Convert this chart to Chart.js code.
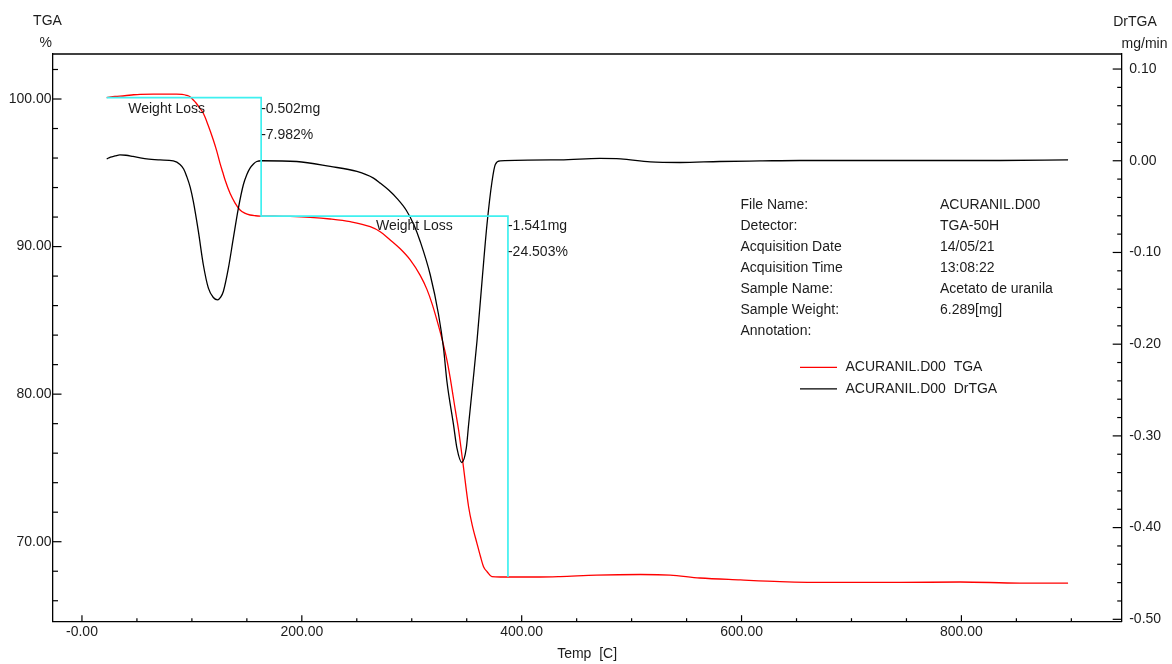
<!DOCTYPE html>
<html><head><meta charset="utf-8">
<script src="https://cdn.jsdelivr.net/npm/chart.js@4.4.1/dist/chart.umd.min.js"></script>
<style>html,body{margin:0;padding:0;background:#fff;}#wrap{width:1172px;height:664px;position:relative;}</style>
</head><body><div id="wrap"><canvas id="c" width="1172" height="664"></canvas></div>
<script>
// ---- data ----
const tgaTemp = [22.5,30,39,47,53,65,76,86,91,95,98.3,101,103.8,107,110.4,114.7,119.5,122.5,125.6,128,130.2,134.7,139.3,143.8,148,152.9,158,162,175,189.3,207.6,225.8,244,262.2,271.3,280.4,289.5,298.6,307.7,313.8,318.5,322.9,327.5,332,335,339.6,342.6,346.6,351.7,355,359.3,362.5,365.3,368.7,372.9,380.5,416.9,435,468,508,535,562,599,635,680,744,799,853,897];
const tgaPct = [100.10,100.17,100.22,100.29,100.32,100.33,100.33,100.33,100.31,100.25,100.15,99.95,99.73,99.40,99.03,98.24,97.22,96.50,95.64,95.05,94.51,93.61,92.95,92.48,92.27,92.14,92.09,92.07,92.06,92.04,91.98,91.87,91.69,91.35,91.01,90.45,89.85,89.10,88.05,87.10,86.12,85.02,83.75,82.31,81.09,78.93,77.57,75.31,72.37,71.13,69.89,69.00,68.31,67.95,67.63,67.61,67.61,67.64,67.74,67.78,67.74,67.54,67.41,67.30,67.24,67.24,67.27,67.20,67.20];
const drtgaTemp = [22.5,26,30,34.6,40,46.4,52,58.9,71,83.1,89.2,92.5,95.3,98.5,101.3,105.9,110.4,115,119.5,123.5,126,128.6,133.2,137.7,142.3,146.8,150,152.9,156,159,163.6,195.4,225.8,250.1,265.2,271.3,279,286.5,295,302,307.7,316.8,324.4,328.9,332,338,341.1,345.5,349.6,351.7,355.7,359.3,363.9,368.4,373,376,380.5,435,471,490,517,544,580,617,653,745,835,897];
const drtgaVal = [0.0020,0.0040,0.0052,0.0065,0.0060,0.0047,0.0035,0.0020,0.0009,-0.0002,-0.0040,-0.0090,-0.0171,-0.0290,-0.0444,-0.0771,-0.1134,-0.1389,-0.1491,-0.1516,-0.1490,-0.1425,-0.1171,-0.0844,-0.0517,-0.0262,-0.0150,-0.0081,-0.0035,-0.0008,0.0000,-0.0008,-0.0062,-0.0117,-0.0190,-0.0244,-0.0320,-0.0410,-0.0540,-0.0700,-0.0880,-0.1243,-0.1679,-0.2044,-0.2407,-0.2879,-0.3134,-0.3290,-0.3134,-0.2879,-0.2407,-0.1971,-0.1316,-0.0698,-0.0226,-0.0040,-0.0002,0.0009,0.0025,0.0020,-0.0013,-0.0019,-0.0008,-0.0002,0.0003,0.0003,0.0003,0.0009];
const weightLossTemp = [22.5,163.0,163.0,387.5,387.5];
const weightLossPct = [100.09,100.09,92.07,92.07,67.61];
const lossTextTemp = [42.1,163.0,163.0,267.4,387.5,387.5];
const lossTextPct = [99.32,99.32,97.58,91.39,91.39,89.60];
const lossTexts = ['Weight Loss','-0.502mg','-7.982%','Weight Loss','-1.541mg','-24.503%'];
const xMajorTicks = [0,200,400,600,800];
const xTickLabels = ['-0.00','200.00','400.00','600.00','800.00'];
const yLeftMajorTicks = [70,80,90,100];
const yLeftTickLabels = ['70.00','80.00','90.00','100.00'];
const yRightMajorTicks = [0.1,0,-0.1,-0.2,-0.3,-0.4,-0.5];
const yRightTickLabels = ['0.10','0.00','-0.10','-0.20','-0.30','-0.40','-0.50'];
const infoLabels = ['File Name:','Detector:','Acquisition Date','Acquisition Time','Sample Name:','Sample Weight:','Annotation:'];
const infoValues = ['ACURANIL.D00','TGA-50H','14/05/21','13:08:22','Acetato de uranila','6.289[mg]',''];
const seriesNames = ['ACURANIL.D00  TGA','ACURANIL.D00  DrTGA'];

// ---- chart ----
const FONT = "'Liberation Sans', Arial, Helvetica, sans-serif";
const TXT = '#1c1c1c';
Chart.defaults.font.family = FONT;
Chart.defaults.font.size = 14;
Chart.defaults.color = TXT;

const pts = (xs, ys) => xs.map((x,i)=>({x:x, y:ys[i]}));
const labelFor = (majors, labels) => v => {
  for (let i=0;i<majors.length;i++) if (Math.abs(v-majors[i])<1e-6) return labels[i];
  return '';
};

const decor = {
  id:'decor',
  beforeDraw(chart){
    const c=chart.ctx; c.save(); c.fillStyle='#fff'; c.fillRect(0,0,chart.width,chart.height); c.restore();
  },
  afterDraw(chart){
    const c=chart.ctx, a=chart.chartArea, sx=chart.scales.x, yl=chart.scales.yTGA, yr=chart.scales.yDr;
    c.save();
    c.strokeStyle='#000'; c.lineWidth=1.3;
    // top frame line
    c.beginPath(); c.moveTo(a.left,a.top); c.lineTo(a.right,a.top); c.stroke();
    // inward ticks
    c.lineWidth=1.2;
    sx.ticks.forEach(t=>{const p=sx.getPixelForValue(t.value); const L=t.label?6.5:3.5;
      c.beginPath(); c.moveTo(p,a.bottom); c.lineTo(p,a.bottom-L); c.stroke();});
    yl.ticks.forEach(t=>{const p=yl.getPixelForValue(t.value); const L=t.label?9:5.5;
      c.beginPath(); c.moveTo(a.left,p); c.lineTo(a.left+L,p); c.stroke();});
    yr.ticks.forEach(t=>{const p=yr.getPixelForValue(t.value); const L=t.label?9:4.5;
      c.beginPath(); c.moveTo(a.right,p); c.lineTo(a.right-L,p); c.stroke();});
    // texts
    c.fillStyle=TXT; c.font='14px '+FONT; c.textBaseline='middle';
    c.textAlign='center';
    c.fillText('TGA',47.5,21.5); c.fillText('%',45.7,43.3);
    c.fillText('DrTGA',1135,22); c.fillText('mg/min',1144.5,44.5);
    c.textAlign='left';
    lossTexts.forEach((s,i)=>{ c.fillText(s, sx.getPixelForValue(lossTextTemp[i]), yl.getPixelForValue(lossTextPct[i])); });
    infoLabels.forEach((s,i)=>{ const y=205+i*21.1; c.fillText(s,740.5,y); if(infoValues[i]) c.fillText(infoValues[i],940,y); });
    // legend
    const legendDs=[chart.data.datasets[2],chart.data.datasets[1]];
    legendDs.forEach((ds,i)=>{ const y=367.3+i*21.5;
      c.strokeStyle=ds.borderColor; c.lineWidth=1.3;
      c.beginPath(); c.moveTo(800,y); c.lineTo(837,y); c.stroke();
      c.fillStyle=TXT; c.fillText(ds.label,845.5,y); });
    c.restore();
  }
};

new Chart(document.getElementById('c'), {
  type:'line',
  data:{ datasets:[
    {label:'Weight Loss', data:pts(weightLossTemp,weightLossPct), yAxisID:'yTGA', borderColor:'#3ff0f0', borderWidth:1.7, pointRadius:0, tension:0, order:0},
    {label:seriesNames[1], data:pts(drtgaTemp,drtgaVal), yAxisID:'yDr', borderColor:'#000000', borderWidth:1.3, pointRadius:0, cubicInterpolationMode:'monotone', order:1},
    {label:seriesNames[0], data:pts(tgaTemp,tgaPct), yAxisID:'yTGA', borderColor:'#ff0000', borderWidth:1.3, pointRadius:0, cubicInterpolationMode:'monotone', order:2}
  ]},
  options:{
    responsive:false, animation:false, devicePixelRatio:1,
    layout:{padding:{top:54,left:0,right:0,bottom:0}},
    plugins:{legend:{display:false}, tooltip:{enabled:false}},
    scales:{
      x:{type:'linear', position:'bottom', min:-26.8, max:945.8,
        grid:{display:false, drawTicks:false}, border:{display:true,color:'#000',width:1.3},
        ticks:{stepSize:50, autoSkip:false, maxRotation:0, includeBounds:false, padding:2, color:TXT, font:{size:14}, callback:labelFor(xMajorTicks,xTickLabels)},
        title:{display:true, text:'Temp  [C]', color:TXT, font:{size:14}, padding:{top:0,bottom:1.5}},
        afterFit:s=>{s.height=42.3;}},
      yTGA:{type:'linear', position:'left', min:64.58, max:103.05,
        grid:{display:false, drawTicks:false}, border:{display:true,color:'#000',width:1.3},
        ticks:{stepSize:2, autoSkip:false, includeBounds:false, padding:1, color:TXT, font:{size:14}, callback:labelFor(yLeftMajorTicks,yLeftTickLabels)},
        afterFit:s=>{s.width=52.5;}},
      yDr:{type:'linear', position:'right', min:-0.5026, max:0.1164,
        grid:{display:false, drawTicks:false}, border:{display:true,color:'#000',width:1.3},
        ticks:{stepSize:0.02, autoSkip:false, includeBounds:false, padding:7.5, color:TXT, font:{size:14}, callback:labelFor(yRightMajorTicks,yRightTickLabels)},
        afterFit:s=>{s.width=50.3;}}
    }
  },
  plugins:[decor]
});
</script></body></html>
